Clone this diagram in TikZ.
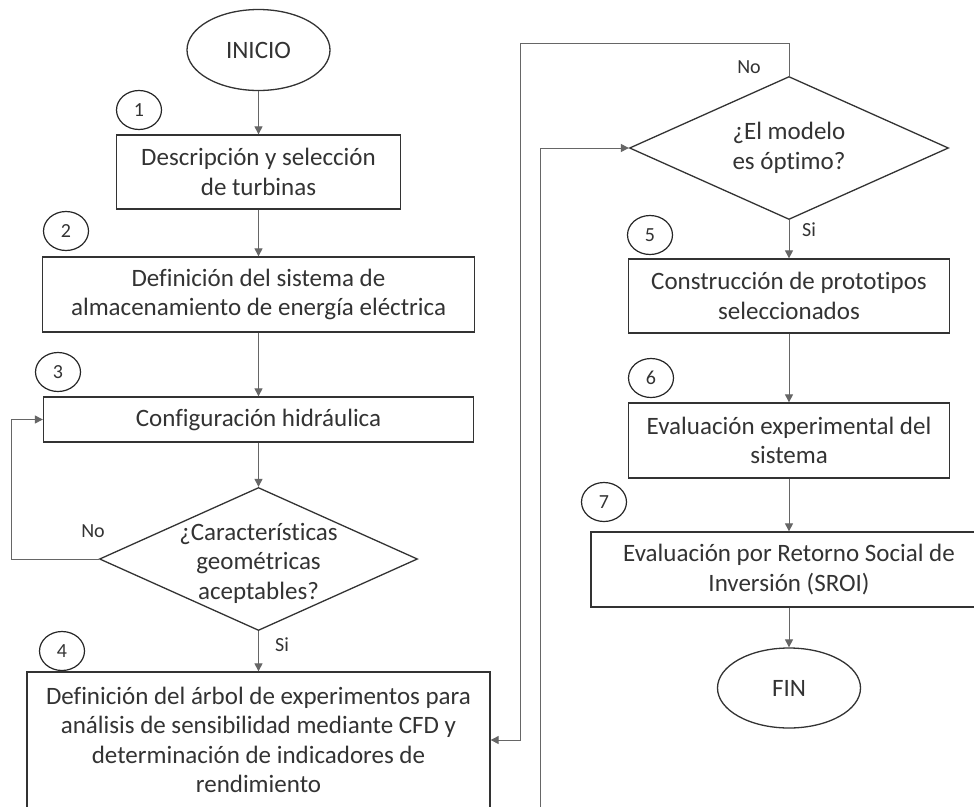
\documentclass[tikz,border=0pt]{standalone}
\usepackage{fontspec}
\setmainfont{Carlito}[Ligatures={NoCommon}]
\usetikzlibrary{shapes.geometric,arrows.meta}
\begin{document}
\begin{tikzpicture}[x=1pt,y=-1pt,
 txt/.style={font=\fontsize{25}{29.5}\selectfont, text=black!80},
 box/.style={draw=black!80, line width=1.3pt, rectangle, inner sep=0pt, align=center, txt},
 dec/.style={draw=black!80, line width=1.3pt, diamond, inner sep=0pt},
 term/.style={draw=black!80, line width=1.3pt, ellipse, inner sep=0pt, txt},
 num/.style={draw=black!85, line width=1.2pt, ellipse, minimum width=45pt, minimum height=39pt, inner sep=0pt, font=\fontsize{20}{22}\selectfont, text=black!80},
 conn/.style={draw=black!60, line width=1pt, -{Triangle[width=8pt,length=8pt]}},
 lab/.style={font=\fontsize{20}{24}\selectfont, text=black!80, inner sep=0pt}
]
\useasboundingbox (0,0) rectangle (974,806);
\fill[white] (0,0) rectangle (974,806);
\clip (0,0) rectangle (974,806);

% left column
\node[term, minimum width=143pt, minimum height=81pt] (ini) at (258.5,50) {INICIO};
\node[box, minimum width=284pt, minimum height=74pt] (b1) at (258.5,172) {Descripción y selección\\de turbinas};
\node[box, minimum width=432pt, minimum height=75pt] (b2) at (258.5,294.5) {Definición del sistema de\\almacenamiento de energía eléctrica};
\node[box, minimum width=430pt, minimum height=45pt] (b3) at (258.5,419.5) {Configuración hidráulica};
\node[dec, minimum width=318pt, minimum height=143pt] (d1) at (258.5,559) {};
\node[txt, align=center, inner sep=0pt] (d1t) at (258.5,563) {¿Características\\geométricas\\aceptables?};
\node[box, minimum width=463pt, minimum height=136pt] (b4) at (258.5,740) {Definición del árbol de experimentos para\\análisis de sensibilidad mediante CFD y\\determinación de indicadores de\\rendimiento};

% right column
\node[dec, minimum width=319pt, minimum height=143pt] (d2) at (789,148) {};
\node[txt, align=center, inner sep=0pt] (d2t) at (789,148) {¿El modelo\\es óptimo?};
\node[box, minimum width=321pt, minimum height=74pt] (b5) at (789,296) {Construcción de prototipos\\seleccionados};
\node[box, minimum width=321pt, minimum height=75pt] (b6) at (789,440.5) {Evaluación experimental del\\sistema};
\node[box, minimum width=396pt, minimum height=75pt] (b7) at (789,569.5) {Evaluación por Retorno Social de\\Inversión (SROI)};
\node[term, minimum width=143pt, minimum height=80pt] (fin) at (789,688) {FIN};

% step numbers
\node[num] (n1) at (139,110) {1};
\node[num] (n2) at (66,231) {2};
\node[num] (n3) at (58,372) {3};
\node[num] (n4) at (62,651) {4};
\node[num] (n5) at (650,235) {5};
\node[num] (n6) at (651,378) {6};
\node[num] (n7) at (604,502) {7};

% labels
\node[lab] (no1) at (93,531) {No};
\node[lab, anchor=west] (si1) at (275,645) {Si};
\node[lab] (no2) at (749,67) {No};
\node[lab, anchor=west] (si2) at (802,230) {Si};

% connectors
\draw[conn] (ini) -- (b1);
\draw[conn] (b1) -- (b2);
\draw[conn] (b2) -- (b3);
\draw[conn] (b3) -- (d1);
\draw[conn] (d1) -- (b4);
\draw[conn] (d1.west) -- ++(-87,0) |- (b3.west);

\coordinate (c1) at (520,43);
\draw[conn] (d2.north) |- (c1) |- (b4.east);
\coordinate (c2) at (540,830);
\draw[conn] (c2) |- (d2.west);

\draw[conn] (d2) -- (b5);
\draw[conn] (b5) -- (b6);
\draw[conn] (b6) -- (b7);
\draw[conn] (b7) -- (fin);
\end{tikzpicture}
\end{document}
